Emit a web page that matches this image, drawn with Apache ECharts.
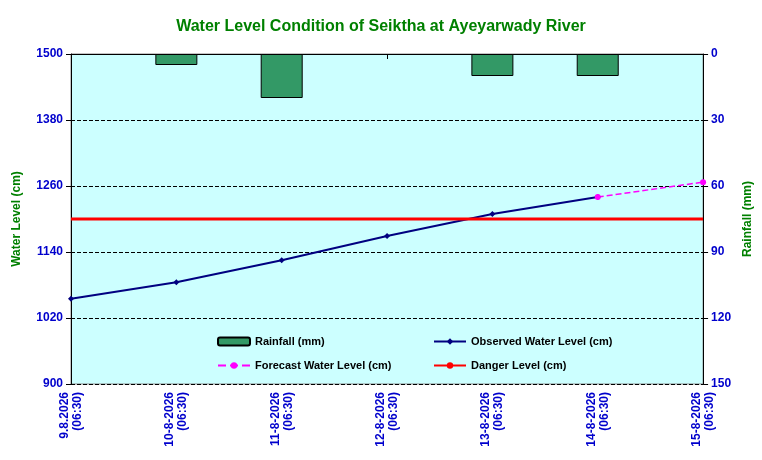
<!DOCTYPE html>
<html><head><meta charset="utf-8">
<script src="https://cdn.jsdelivr.net/npm/echarts@6/dist/echarts.min.js"></script>
<style>html,body{margin:0;padding:0;background:#fff}#c{width:762px;height:460px}</style>
</head><body><div id="c"></div>
<script>
var categories = ['9.8.2026\n(06:30)','10-8-2026\n(06:30)','11-8-2026\n(06:30)','12-8-2026\n(06:30)','13-8-2026\n(06:30)','14-8-2026\n(06:30)','15-8-2026\n(06:30)'];
var rainfall = [null, 5, 20, null, 10, 10, null];
var observed = [1055, 1085, 1125, 1169, 1209, 1240, null];
var forecast = [null, null, null, null, null, 1240, 1267];
var danger = [1200, 1200, 1200, 1200, 1200, 1200, 1200];

var blue = '#0000cc', green = '#008000', ff = 'Liberation Sans';
var chart = echarts.init(document.getElementById('c'));
chart.setOption({
  backgroundColor: '#fff',
  textStyle: {fontFamily: ff},
  title: {text: 'Water Level Condition of Seiktha at Ayeyarwady River', left: 'center', top: 14,
    textStyle: {color: green, fontFamily: ff, fontSize: 16, fontWeight: 'bold'}},
  grid: {left: 71, right: 56, top: 54, bottom: 76, backgroundColor: '#ccffff', show: true, borderColor: '#888', borderWidth: 1},
  legend: [
    {orient: 'vertical', left: 212, top: 331, itemGap: 13, itemWidth: 32, itemHeight: 8,
     textStyle: {fontSize: 11, fontWeight: 'bold', color: '#000', fontFamily: ff},
     data: ['Rainfall (mm)', 'Forecast Water Level (cm)']},
    {orient: 'vertical', left: 428, top: 331, itemGap: 13, itemWidth: 32, itemHeight: 8,
     textStyle: {fontSize: 11, fontWeight: 'bold', color: '#000', fontFamily: ff},
     data: ['Observed Water Level (cm)', 'Danger Level (cm)']}
  ],
  xAxis: {type: 'category', data: categories, boundaryGap: false,
    axisLine: {lineStyle: {color: '#000'}}, axisTick: {show: true, lineStyle: {color: '#000'}},
    axisLabel: {rotate: 90, color: blue, fontWeight: 'bold', fontSize: 12, fontFamily: ff, interval: 0, lineHeight: 13}},
  yAxis: [
    {type: 'value', min: 900, max: 1500, interval: 120, name: 'Water Level (cm)', nameLocation: 'middle', nameGap: 48,
     nameTextStyle: {color: green, fontWeight: 'bold', fontSize: 12},
     axisLine: {show: true, lineStyle: {color: '#000'}}, axisTick: {show: true},
     axisLabel: {color: blue, fontWeight: 'bold', fontSize: 12, formatter: function (v) { return String(v); }},
     splitLine: {lineStyle: {color: '#000', type: 'dashed'}}},
    {type: 'value', min: 0, max: 150, interval: 30, inverse: true, name: 'Rainfall (mm)', nameLocation: 'middle', nameGap: 36,
     nameRotate: 90, nameTextStyle: {color: green, fontWeight: 'bold', fontSize: 12},
     axisLine: {show: true, lineStyle: {color: '#000'}}, axisTick: {show: true},
     axisLabel: {color: blue, fontWeight: 'bold', fontSize: 12}, splitLine: {show: false}}
  ],
  series: [
    {name: 'Rainfall (mm)', type: 'bar', yAxisIndex: 1, data: rainfall, barWidth: 42,
     itemStyle: {color: '#339966', borderColor: '#000', borderWidth: 1}},
    {name: 'Observed Water Level (cm)', type: 'line', data: observed, symbol: 'diamond', symbolSize: 6,
     lineStyle: {color: '#000080', width: 2}, itemStyle: {color: '#000080'}},
    {name: 'Forecast Water Level (cm)', type: 'line', data: forecast, symbol: 'circle', symbolSize: 6,
     lineStyle: {color: '#ff00ff', width: 1.5, type: 'dashed'}, itemStyle: {color: '#ff00ff'}},
    {name: 'Danger Level (cm)', type: 'line', data: danger, symbol: 'none',
     lineStyle: {color: '#ff0000', width: 3}, itemStyle: {color: '#ff0000'}}
  ]
});
</script></body></html>
